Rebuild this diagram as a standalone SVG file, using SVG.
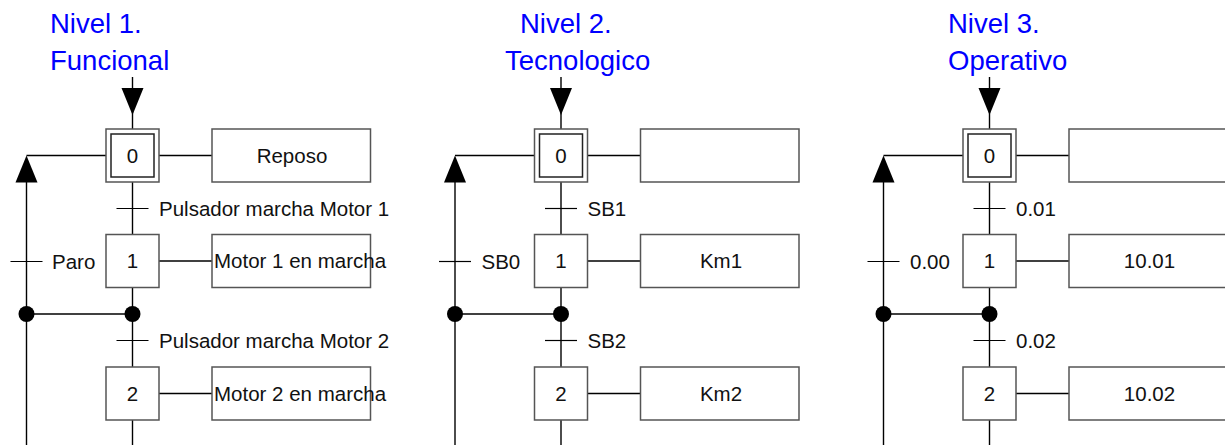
<svg xmlns="http://www.w3.org/2000/svg" width="1225" height="445" viewBox="0 0 1225 445">
<defs>
<style>
.bg{fill:#fff}
.title{font-family:"Liberation Sans",Arial,sans-serif;font-size:27.5px;fill:#0000ff}
.t{font-family:"Liberation Sans",Arial,sans-serif;font-size:20.5px;fill:#111}
.c{text-anchor:middle}
.box{fill:#fff;stroke:#555;stroke-width:1.5}
.inner{fill:none;stroke:#222;stroke-width:1.5}
.ln{fill:none;stroke:#000;stroke-width:1.4}
.tick{fill:none;stroke:#000;stroke-width:1.2}
.dot{fill:#000}
.arr{fill:#000}
</style>
</defs>
<rect class="bg" x="0" y="0" width="1225" height="445"/>

<g id="titles">
<text class="title" x="50" y="33">Nivel 1.</text>
<text class="title" x="50" y="70">Funcional</text>
<text class="title" x="520" y="33">Nivel 2.</text>
<text class="title" x="505" y="70">Tecnologico</text>
<text class="title" x="948" y="33">Nivel 3.</text>
<text class="title" x="948" y="70">Operativo</text>
</g>

<!-- Panel 1: L=26.5 C=132.5 -->
<g id="connectors-1">
<line class="ln" x1="132.5" y1="77" x2="132.5" y2="129"/>
<polygon class="arr" points="121.5,88 143.5,88 132.5,115"/>
<line class="ln" x1="132.5" y1="182" x2="132.5" y2="235"/>
<line class="ln" x1="132.5" y1="287.5" x2="132.5" y2="367"/>
<line class="ln" x1="132.5" y1="420" x2="132.5" y2="445"/>
<line class="ln" x1="26.5" y1="155.5" x2="106" y2="155.5"/>
<line class="ln" x1="26.5" y1="180" x2="26.5" y2="445"/>
<polygon class="arr" points="26.5,155.5 15.5,182.5 37.5,182.5"/>
<line class="ln" x1="26.5" y1="314" x2="132.5" y2="314"/>
<circle class="dot" cx="26.5" cy="314" r="8"/>
<circle class="dot" cx="132.5" cy="314" r="8"/>
<line class="ln" x1="159" y1="155.5" x2="212" y2="155.5"/>
<line class="ln" x1="159" y1="261" x2="212" y2="261"/>
<line class="ln" x1="159" y1="393.5" x2="212" y2="393.5"/>
<line class="tick" x1="116.5" y1="208.5" x2="148.5" y2="208.5"/>
<line class="tick" x1="116.5" y1="340.5" x2="148.5" y2="340.5"/>
<line class="tick" x1="10.5" y1="261.5" x2="42.5" y2="261.5"/>
<text class="t" x="159" y="216">Pulsador marcha Motor 1</text>
<text class="t" x="159" y="348">Pulsador marcha Motor 2</text>
<text class="t" x="52" y="269">Paro</text>
</g>
<g id="step1-0">
<rect class="box" x="106" y="129" width="53" height="53"/>
<rect class="inner" x="111" y="134" width="43" height="43"/>
<text class="t c" x="132.5" y="163">0</text>
</g>
<g id="step1-1">
<rect class="box" x="106" y="234.5" width="53" height="53"/>
<text class="t c" x="132.5" y="268">1</text>
</g>
<g id="step1-2">
<rect class="box" x="106" y="367" width="53" height="53"/>
<text class="t c" x="132.5" y="401">2</text>
</g>
<g id="action1-0">
<rect class="box" x="212" y="129" width="158.5" height="53"/>
<text class="t c" x="292" y="163">Reposo</text>
</g>
<g id="action1-1">
<rect class="box" x="212" y="234.5" width="158.5" height="53"/>
<text class="t" x="214" y="268">Motor 1 en marcha</text>
</g>
<g id="action1-2">
<rect class="box" x="212" y="367" width="158.5" height="53"/>
<text class="t" x="214" y="401">Motor 2 en marcha</text>
</g>

<!-- Panel 2: L=455 C=561 -->
<g id="connectors-2">
<line class="ln" x1="561" y1="77" x2="561" y2="129"/>
<polygon class="arr" points="550,88 572,88 561,115"/>
<line class="ln" x1="561" y1="182" x2="561" y2="235"/>
<line class="ln" x1="561" y1="287.5" x2="561" y2="367"/>
<line class="ln" x1="561" y1="420" x2="561" y2="445"/>
<line class="ln" x1="455" y1="155.5" x2="534.5" y2="155.5"/>
<line class="ln" x1="455" y1="180" x2="455" y2="445"/>
<polygon class="arr" points="455,155.5 444,182.5 466,182.5"/>
<line class="ln" x1="455" y1="314" x2="561" y2="314"/>
<circle class="dot" cx="455" cy="314" r="8"/>
<circle class="dot" cx="561" cy="314" r="8"/>
<line class="ln" x1="587.5" y1="155.5" x2="640.5" y2="155.5"/>
<line class="ln" x1="587.5" y1="261" x2="640.5" y2="261"/>
<line class="ln" x1="587.5" y1="393.5" x2="640.5" y2="393.5"/>
<line class="tick" x1="545" y1="208.5" x2="577" y2="208.5"/>
<line class="tick" x1="545" y1="340.5" x2="577" y2="340.5"/>
<line class="tick" x1="439" y1="261.5" x2="471" y2="261.5"/>
<text class="t" x="587.5" y="216">SB1</text>
<text class="t" x="587.5" y="348">SB2</text>
<text class="t" x="481.5" y="269">SB0</text>
</g>
<g id="step2-0">
<rect class="box" x="534.5" y="129" width="53" height="53"/>
<rect class="inner" x="539.5" y="134" width="43" height="43"/>
<text class="t c" x="561" y="163">0</text>
</g>
<g id="step2-1">
<rect class="box" x="534.5" y="234.5" width="53" height="53"/>
<text class="t c" x="561" y="268">1</text>
</g>
<g id="step2-2">
<rect class="box" x="534.5" y="367" width="53" height="53"/>
<text class="t c" x="561" y="401">2</text>
</g>
<g id="action2-0">
<rect class="box" x="640.5" y="129" width="158.5" height="53"/>
</g>
<g id="action2-1">
<rect class="box" x="640.5" y="234.5" width="158.5" height="53"/>
<text class="t c" x="721" y="268">Km1</text>
</g>
<g id="action2-2">
<rect class="box" x="640.5" y="367" width="158.5" height="53"/>
<text class="t c" x="721" y="401">Km2</text>
</g>

<!-- Panel 3: L=883.5 C=989.5 -->
<g id="connectors-3">
<line class="ln" x1="989.5" y1="77" x2="989.5" y2="129"/>
<polygon class="arr" points="978.5,88 1000.5,88 989.5,115"/>
<line class="ln" x1="989.5" y1="182" x2="989.5" y2="235"/>
<line class="ln" x1="989.5" y1="287.5" x2="989.5" y2="367"/>
<line class="ln" x1="989.5" y1="420" x2="989.5" y2="445"/>
<line class="ln" x1="883.5" y1="155.5" x2="963" y2="155.5"/>
<line class="ln" x1="883.5" y1="180" x2="883.5" y2="445"/>
<polygon class="arr" points="883.5,155.5 872.5,182.5 894.5,182.5"/>
<line class="ln" x1="883.5" y1="314" x2="989.5" y2="314"/>
<circle class="dot" cx="883.5" cy="314" r="8"/>
<circle class="dot" cx="989.5" cy="314" r="8"/>
<line class="ln" x1="1016" y1="155.5" x2="1069" y2="155.5"/>
<line class="ln" x1="1016" y1="261" x2="1069" y2="261"/>
<line class="ln" x1="1016" y1="393.5" x2="1069" y2="393.5"/>
<line class="tick" x1="973.5" y1="208.5" x2="1005.5" y2="208.5"/>
<line class="tick" x1="973.5" y1="340.5" x2="1005.5" y2="340.5"/>
<line class="tick" x1="867.5" y1="261.5" x2="899.5" y2="261.5"/>
<text class="t" x="1016" y="216">0.01</text>
<text class="t" x="1016" y="348">0.02</text>
<text class="t" x="910" y="269">0.00</text>
</g>
<g id="step3-0">
<rect class="box" x="963" y="129" width="53" height="53"/>
<rect class="inner" x="968" y="134" width="43" height="43"/>
<text class="t c" x="989.5" y="163">0</text>
</g>
<g id="step3-1">
<rect class="box" x="963" y="234.5" width="53" height="53"/>
<text class="t c" x="989.5" y="268">1</text>
</g>
<g id="step3-2">
<rect class="box" x="963" y="367" width="53" height="53"/>
<text class="t c" x="989.5" y="401">2</text>
</g>
<g id="action3-0">
<rect class="box" x="1069" y="129" width="158.5" height="53"/>
</g>
<g id="action3-1">
<rect class="box" x="1069" y="234.5" width="158.5" height="53"/>
<text class="t c" x="1149.5" y="268">10.01</text>
</g>
<g id="action3-2">
<rect class="box" x="1069" y="367" width="158.5" height="53"/>
<text class="t c" x="1149.5" y="401">10.02</text>
</g>
</svg>
